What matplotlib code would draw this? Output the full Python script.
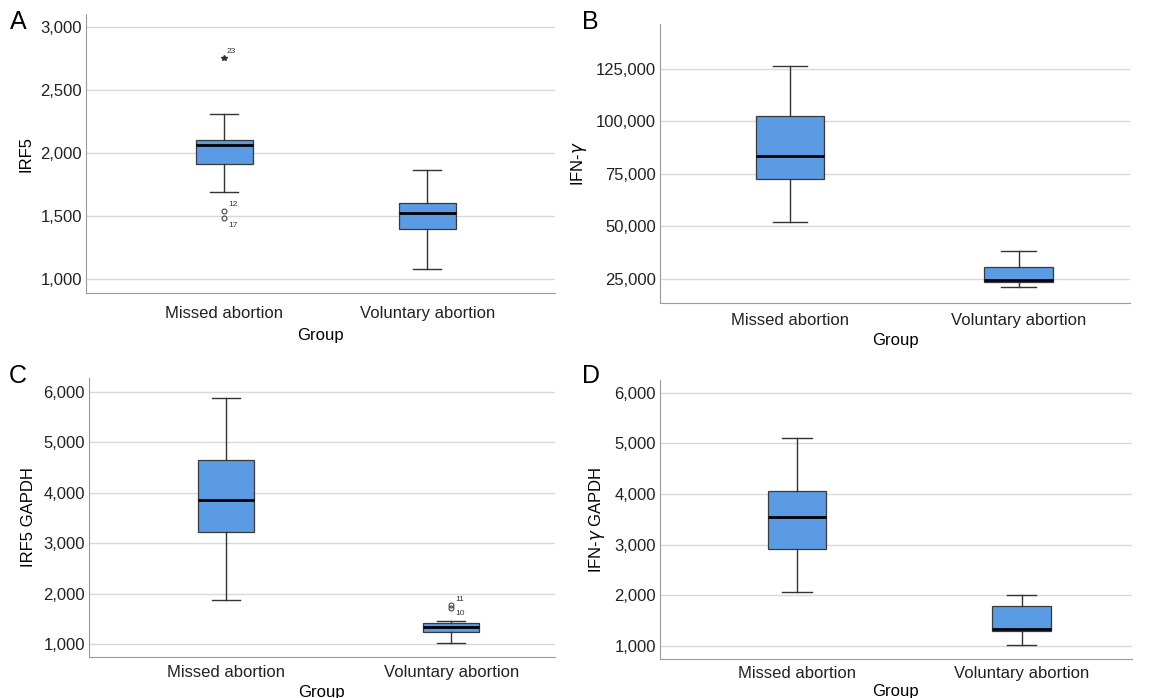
import matplotlib.pyplot as plt
from matplotlib.ticker import FuncFormatter

plt.rcParams['font.family'] = ['Liberation Sans', 'DejaVu Sans']

groups = ["Missed abortion", "Voluntary abortion"]

# box stats per panel: [missed, voluntary]
irf5_whislo = [1690, 1079]
irf5_q1 = [1913, 1397]
irf5_med = [2063, 1524]
irf5_q3 = [2103, 1603]
irf5_whishi = [2310, 1865]
irf5_outliers = [[1540, 1484], []]
irf5_outlier_ids = [["12", "17"], []]
irf5_extremes = [[2754], []]
irf5_extreme_ids = [["23"], []]

ifn_whislo = [52100, 21200]
ifn_q1 = [72600, 23600]
ifn_med = [83600, 24300]
ifn_q3 = [102600, 30700]
ifn_whishi = [126400, 38300]

irf5g_whislo = [1873, 1020]
irf5g_q1 = [3222, 1238]
irf5g_med = [3857, 1337]
irf5g_q3 = [4651, 1417]
irf5g_whishi = [5881, 1456]
irf5g_outliers = [[], [1774, 1714]]
irf5g_outlier_ids = [[], ["11", "10"]]

ifng_whislo = [2067, 1020]
ifng_q1 = [2917, 1296]
ifng_med = [3549, 1336]
ifng_q3 = [4063, 1790]
ifng_whishi = [5111, 2008]

BOX_COLOR = "#5b9be3"


def make_stats(lo, q1, med, q3, hi, fl=None):
    out = []
    for i in range(len(groups)):
        out.append({"whislo": lo[i], "q1": q1[i], "med": med[i], "q3": q3[i],
                    "whishi": hi[i], "fliers": fl[i] if fl else []})
    return out


def draw_panel(rect, letter, letter_xy, stats, ylabel, yticks, ylim, xlim, width,
               fliers=None, flier_ids=None, extremes=None, extreme_ids=None,
               id_offsets=None, xpad=6, glpad=3):
    ax = fig.add_axes(rect)
    ax.bxp(stats, positions=[1, 2], widths=width, patch_artist=True,
           boxprops=dict(facecolor=BOX_COLOR, edgecolor="#3a3a3a", linewidth=0.9),
           medianprops=dict(color="black", linewidth=2),
           whiskerprops=dict(color="#333333", linewidth=1),
           capprops=dict(color="#333333", linewidth=1),
           flierprops=dict(marker="o", markersize=3.5, markerfacecolor="none",
                           markeredgecolor="#444444", markeredgewidth=0.8),
           zorder=3)
    if fliers:
        for i, (vals, ids) in enumerate(zip(fliers, flier_ids)):
            for j, (v, lab) in enumerate(zip(vals, ids)):
                dy = id_offsets[j] if id_offsets else 0
                ax.annotate(lab, (i + 1, v), xytext=(3, dy), textcoords="offset points",
                            fontsize=6, color="#333333", va="center")
    if extremes:
        for i, (vals, ids) in enumerate(zip(extremes, extreme_ids)):
            ax.plot([i + 1] * len(vals), vals, linestyle="none", marker="*",
                    markersize=4, color="#333333", zorder=4)
            for v, lab in zip(vals, ids):
                ax.annotate(lab, (i + 1, v), xytext=(2, 5), textcoords="offset points",
                            fontsize=6, color="#333333", va="center")
    ax.set_xlim(*xlim)
    ax.set_ylim(*ylim)
    ax.set_yticks(yticks)
    ax.yaxis.set_major_formatter(FuncFormatter(lambda v, p: f"{int(v):,}"))
    ax.set_xticks([1, 2])
    ax.set_xticklabels(groups)
    ax.tick_params(axis="y", length=0, labelsize=12, colors="#222222", pad=3)
    ax.tick_params(axis="x", length=0, labelsize=12, colors="#222222", pad=xpad)
    ax.grid(axis="y", color="#d9d9d9", linewidth=1)
    ax.set_axisbelow(True)
    for s in ["top", "right"]:
        ax.spines[s].set_visible(False)
    for s in ["left", "bottom"]:
        ax.spines[s].set_color("#999999")
    ax.set_ylabel(ylabel, fontsize=12, labelpad=5)
    ax.set_xlabel("Group", fontsize=12, labelpad=glpad)
    fig.text(letter_xy[0] / 1150, 1 - letter_xy[1] / 698, letter, fontsize=18,
             va="center", ha="left")
    return ax


fig = plt.figure(figsize=(11.5, 6.98), dpi=100)

draw_panel([0.0748, 0.580, 0.408, 0.400], "A", (10, 22),
           make_stats(irf5_whislo, irf5_q1, irf5_med, irf5_q3, irf5_whishi, irf5_outliers),
           "IRF5", [1000, 1500, 2000, 2500, 3000], (889, 3103), (0.32, 2.63), 0.28,
           fliers=irf5_outliers, flier_ids=irf5_outlier_ids,
           extremes=irf5_extremes, extreme_ids=irf5_extreme_ids, id_offsets=[5, -5],
           xpad=9, glpad=5)

draw_panel([0.574, 0.566, 0.409, 0.400], "B", (582, 22),
           make_stats(ifn_whislo, ifn_q1, ifn_med, ifn_q3, ifn_whishi),
           r"IFN-$\gamma$", [25000, 50000, 75000, 100000, 125000], (13571, 146429), (0.43, 2.49), 0.3,
           xpad=7, glpad=4)

draw_panel([0.0774, 0.0587, 0.405, 0.400], "C", (9, 376),
           make_stats(irf5g_whislo, irf5g_q1, irf5g_med, irf5g_q3, irf5g_whishi, irf5g_outliers),
           "IRF5 GAPDH", [1000, 2000, 3000, 4000, 5000, 6000], (742, 6278), (0.39, 2.46), 0.25,
           fliers=irf5g_outliers, flier_ids=irf5g_outlier_ids, id_offsets=[4, -4])

draw_panel([0.574, 0.0559, 0.410, 0.400], "D", (582, 376),
           make_stats(ifng_whislo, ifng_q1, ifng_med, ifng_q3, ifng_whishi),
           r"IFN-$\gamma$ GAPDH", [1000, 2000, 3000, 4000, 5000, 6000], (743, 6257), (0.39, 2.49), 0.26,
           xpad=5, glpad=2)

plt.savefig("out.png", dpi=100)
